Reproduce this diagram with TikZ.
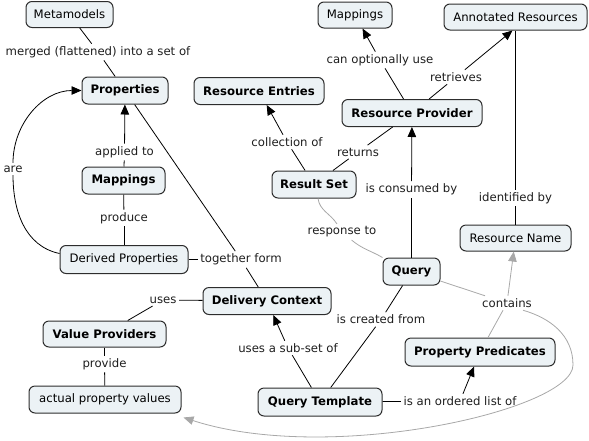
\documentclass[tikz,border=0pt]{standalone}
\usepackage{fontspec}
\setmainfont{DejaVu Sans}
\usetikzlibrary{arrows.meta}
\definecolor{boxfill}{RGB}{236,242,245}
\definecolor{boxdraw}{RGB}{45,45,45}
\definecolor{lgray}{RGB}{168,168,168}
\definecolor{labtext}{RGB}{30,30,30}
\tikzset{
 concept/.style={draw=boxdraw, line width=1pt, fill=boxfill, rounded corners=6pt,
   minimum height=27pt, inner xsep=4pt, font=\fontsize{11.7}{14}\selectfont, text=black},
 bconcept/.style={concept, font=\fontsize{11.7}{14}\selectfont\bfseries},
 lab/.style={inner sep=2.5pt, font=\fontsize{11.7}{14}\selectfont, text=labtext},
 ln/.style={line width=0.8pt, draw=black},
 arr/.style={ln, -{Triangle[length=10pt,width=8.5pt]}},
 gln/.style={line width=0.8pt, draw=lgray},
 garr/.style={gln, -{Triangle[length=10pt,width=8.5pt]}, color=lgray},
}
\begin{document}
\begin{tikzpicture}[x=1pt,y=1pt]
\useasboundingbox (0,0) rectangle (589,-440);
% concepts
\node[concept, minimum width=87pt, minimum height=26pt] (meta) at (69.5,-14.5) {Metamodels};
\node[bconcept, minimum width=86pt] (props) at (125,-90.5) {Properties};
\node[bconcept, minimum width=130pt] (re) at (259,-91) {Resource Entries};
\node[concept, minimum width=74pt, minimum height=26pt] (mapa) at (355,-15) {Mappings};
\node[concept, minimum width=143pt, minimum height=26pt] (ar) at (515.5,-17) {Annotated Resources};
\node[bconcept, minimum width=140pt] (rp) at (412,-113) {Resource Provider};
\node[bconcept, minimum width=84pt] (rs) at (314,-184.5) {Result Set};
\node[bconcept, minimum width=83pt] (mapb) at (123.5,-180.5) {Mappings};
\node[concept, minimum width=128pt, minimum height=28pt] (dp) at (124,-259.5) {Derived Properties};
\node[concept, minimum width=111pt, minimum height=26pt] (rn) at (515.5,-238) {Resource Name};
\node[bconcept, minimum width=57pt] (q) at (411.5,-271.5) {Query};
\node[bconcept, minimum width=128pt] (dc) at (267,-301) {Delivery Context};
\node[bconcept, minimum width=123pt, minimum height=26pt] (vp) at (104.5,-334) {Value Providers};
\node[concept, minimum width=152pt] (apv) at (105,-399.5) {actual property values};
\node[bconcept, minimum width=124pt, minimum height=28pt] (qt) at (320,-402) {Query Template};
\node[bconcept, minimum width=150pt, minimum height=28pt] (pp) at (480,-352) {Property Predicates};
% linking phrases
\node[lab] (lmerged) at (98,-52) {merged (flattened) into a set of};
\node[lab] (lapplied) at (124.5,-152) {applied to};
\node[lab] (lare) at (13,-169) {are};
\node[lab] (lproduce) at (124,-218) {produce};
\node[lab] (ltogether) at (241,-259.5) {together form};
\node[lab] (luses) at (163,-300) {uses};
\node[lab] (lprovide) at (104.5,-364) {provide};
\node[lab] (lsubset) at (288,-348) {uses a sub-set of};
\node[lab] (lcreated) at (381,-319.5) {is created from};
\node[lab] (lordered) at (460,-401) {is an ordered list of};
\node[lab] (lcontains) at (507,-303) {contains};
\node[lab] (lresponse) at (342,-232) {response to};
\node[lab] (lconsumed) at (411.5,-189.5) {is consumed by};
\node[lab] (lreturns) at (358,-152) {returns};
\node[lab] (lcollection) at (287,-142) {collection of};
\node[lab] (loptional) at (380,-60) {can optionally use};
\node[lab] (lretrieves) at (456,-77) {retrieves};
\node[lab] (lidentified) at (515.5,-198) {identified by};
% connectors
\draw[ln] (meta) -- (lmerged);
\draw[ln] (lmerged) -- (props);
\draw[ln] (mapb) -- (lapplied);
\draw[arr] (lapplied) -- (props);
\draw[ln] (mapb) -- (lproduce);
\draw[ln] (lproduce) -- (dp);
\draw[ln] ([yshift=6pt]dp.west) to[out=168,in=-90] (lare.south);
\draw[arr] (lare.north) to[out=90,in=180] (props.west);
\draw[ln] (props) -- (ltogether);
\draw[ln] (dp) -- (ltogether);
\draw[ln] (ltogether) -- (dc);
\draw[ln] (dc) -- (luses);
\draw[ln] (luses) -- (vp);
\draw[ln] (vp) -- (lprovide);
\draw[ln] (lprovide) -- (apv);
\draw[ln] (qt) -- (lsubset);
\draw[arr] (lsubset) -- (dc);
\draw[ln] (q) -- (lcreated);
\draw[ln] (lcreated) -- (qt);
\draw[ln] (qt) -- (lordered);
\draw[arr] (lordered) -- (pp);
\draw[ln] (q) -- (lconsumed);
\draw[arr] (lconsumed) -- (rp);
\draw[ln] (rs) -- (lreturns);
\draw[ln] (lreturns) -- (rp);
\draw[ln] (rs) -- (lcollection);
\draw[arr] (lcollection) -- (re);
\draw[ln] (rp) -- (loptional);
\draw[arr] (loptional) -- (mapa);
\draw[ln] (rp) -- (lretrieves);
\draw[arr] (lretrieves) -- ([xshift=-3pt]ar.south);
\draw[ln] (ar) -- (lidentified);
\draw[ln] (lidentified) -- (rn);
% gray connectors
\draw[gln] ([xshift=4pt]rs.south) to[out=-82,in=122] (lresponse);
\draw[gln] (lresponse) to[out=-40,in=150] (q.north west);
\draw[gln] (q) -- (lcontains);
\draw[gln] (pp) -- (lcontains);
\draw[garr] (lcontains) -- (rn);
\draw[garr] ([xshift=16pt]lcontains.south) .. controls (550,-318) and (573,-335) .. (573,-365)
  .. controls (573,-410) and (330,-465) .. ([shift={(2pt,-4pt)}]apv.south east);
\end{tikzpicture}
\end{document}
